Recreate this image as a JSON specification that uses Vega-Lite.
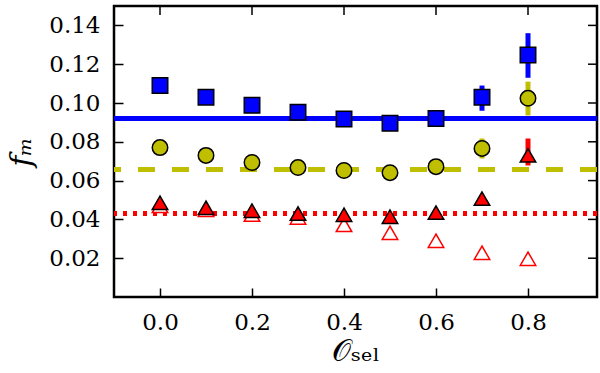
{
  "$schema": "https://vega.github.io/schema/vega-lite/v6.json",
  "autosize": "none",
  "width": 483,
  "height": 291,
  "padding": {"left": 114, "top": 6, "right": 3, "bottom": 76},
  "config": {
    "view": {"stroke": "black", "strokeWidth": 2.5},
    "axis": {"grid": false, "domain": false, "tickColor": "black", "tickWidth": 1.5, "tickSize": -9, "labelFont": "DejaVu Serif", "labelFontSize": 23, "labelColor": "black", "labelPadding": 23, "titleFont": "DejaVu Serif", "titleFontSize": 30, "titleColor": "black", "titleFontWeight": "normal"}
  },
  "datasets": {
    "pts": [
      {"series": "open", "x": 0.0, "y": 0.047},
      {"series": "open", "x": 0.1, "y": 0.045},
      {"series": "open", "x": 0.2, "y": 0.0425},
      {"series": "open", "x": 0.3, "y": 0.041},
      {"series": "open", "x": 0.4, "y": 0.0372},
      {"series": "open", "x": 0.5, "y": 0.0331},
      {"series": "open", "x": 0.6, "y": 0.029},
      {"series": "open", "x": 0.7, "y": 0.0228},
      {"series": "open", "x": 0.8, "y": 0.0197},
      {"series": "red", "x": 0.0, "y": 0.0486},
      {"series": "red", "x": 0.1, "y": 0.046},
      {"series": "red", "x": 0.2, "y": 0.0445},
      {"series": "red", "x": 0.3, "y": 0.043},
      {"series": "red", "x": 0.4, "y": 0.0424},
      {"series": "red", "x": 0.5, "y": 0.0414},
      {"series": "red", "x": 0.6, "y": 0.0435},
      {"series": "red", "x": 0.7, "y": 0.0507},
      {"series": "red", "x": 0.8, "y": 0.073},
      {"series": "yellow", "x": 0.0, "y": 0.077},
      {"series": "yellow", "x": 0.1, "y": 0.073},
      {"series": "yellow", "x": 0.2, "y": 0.0693},
      {"series": "yellow", "x": 0.3, "y": 0.0667},
      {"series": "yellow", "x": 0.4, "y": 0.0652},
      {"series": "yellow", "x": 0.5, "y": 0.0641},
      {"series": "yellow", "x": 0.6, "y": 0.0672},
      {"series": "yellow", "x": 0.7, "y": 0.0766},
      {"series": "yellow", "x": 0.8, "y": 0.1024},
      {"series": "blue", "x": 0.0, "y": 0.109},
      {"series": "blue", "x": 0.1, "y": 0.103},
      {"series": "blue", "x": 0.2, "y": 0.0988},
      {"series": "blue", "x": 0.3, "y": 0.0952},
      {"series": "blue", "x": 0.4, "y": 0.0918},
      {"series": "blue", "x": 0.5, "y": 0.0895},
      {"series": "blue", "x": 0.6, "y": 0.092},
      {"series": "blue", "x": 0.7, "y": 0.103},
      {"series": "blue", "x": 0.8, "y": 0.1247}
    ],
    "errs": [
      {"series": "blue", "x": 0.7, "lo": 0.096, "hi": 0.109},
      {"series": "blue", "x": 0.8, "lo": 0.113, "hi": 0.136},
      {"series": "yellow", "x": 0.7, "lo": 0.0714, "hi": 0.0817},
      {"series": "yellow", "x": 0.8, "lo": 0.0936, "hi": 0.111},
      {"series": "red", "x": 0.8, "lo": 0.0678, "hi": 0.0817}
    ],
    "lines": [
      {"series": "blue", "y": 0.092},
      {"series": "yellow", "y": 0.0657},
      {"series": "red", "y": 0.043}
    ],
    "xticks": [{"v": 0}, {"v": 0.2}, {"v": 0.4}, {"v": 0.6}, {"v": 0.8}],
    "yticks": [{"v": 0.02}, {"v": 0.04}, {"v": 0.06}, {"v": 0.08}, {"v": 0.10}, {"v": 0.12}, {"v": 0.14}]
  },
  "layer": [
    {
      "data": {"name": "errs"},
      "mark": {"type": "rule", "strokeWidth": 5},
      "encoding": {
        "x": {"field": "x", "type": "quantitative", "scale": {"domain": [-0.1, 0.95], "nice": false, "zero": false},
          "axis": {"orient": "bottom", "values": [0, 0.2, 0.4, 0.6, 0.8], "format": ".1f", "domain": false, "grid": false, "ticks": true, "tickColor": "black", "tickWidth": 1.5, "tickSize": -9, "labelFont": "DejaVu Serif", "labelFontSize": 23, "labelColor": "black", "labelPadding": 23, "title": "𝒪ₛₑₗ", "titleFont": "DejaVu Serif", "titleFontSize": 30, "titleColor": "black", "titleFontWeight": "normal", "titlePadding": 2}},
        "y": {"field": "lo", "type": "quantitative", "scale": {"domain": [0, 0.15], "nice": false},
          "axis": {"orient": "left", "values": [0.02, 0.04, 0.06, 0.08, 0.10, 0.12, 0.14], "format": ".2f", "domain": false, "grid": false, "ticks": true, "tickColor": "black", "tickWidth": 1.5, "tickSize": -9, "labelFont": "DejaVu Serif", "labelFontSize": 23, "labelColor": "black", "labelPadding": 23, "title": "fₘ", "titleFont": "DejaVu Serif", "titleFontSize": 30, "titleColor": "black", "titleFontWeight": "normal", "titleFontStyle": "italic", "titlePadding": 12}},
        "y2": {"field": "hi"},
        "color": {"field": "series", "type": "nominal", "scale": {"domain": ["blue", "yellow", "red"], "range": ["#0000ff", "#bfbf00", "#ff0000"]}, "legend": null}
      }
    },
    {
      "data": {"name": "lines"},
      "mark": {"type": "rule", "strokeWidth": 5},
      "encoding": {
        "y": {"field": "y", "type": "quantitative", "scale": {"domain": [0, 0.15], "nice": false},
          "axis": {"orient": "left", "values": [0.02, 0.04, 0.06, 0.08, 0.10, 0.12, 0.14], "format": ".2f", "domain": false, "grid": false, "ticks": true, "tickColor": "black", "tickWidth": 1.5, "tickSize": -9, "labelFont": "DejaVu Serif", "labelFontSize": 23, "labelColor": "black", "labelPadding": 23, "title": "fₘ", "titleFont": "DejaVu Serif", "titleFontSize": 30, "titleColor": "black", "titleFontWeight": "normal", "titleFontStyle": "italic", "titlePadding": 12}},
        "color": {"field": "series", "type": "nominal", "scale": {"domain": ["blue", "yellow", "red"], "range": ["#0000ff", "#bfbf00", "#ff0000"]}, "legend": null},
        "strokeDash": {"field": "series", "type": "nominal", "scale": {"domain": ["blue", "yellow", "red"], "range": [[1, 0], [17, 17], [4, 6]]}, "legend": null}
      }
    },
    {
      "data": {"name": "xticks"},
      "mark": {"type": "rule", "color": "black", "strokeWidth": 1.5},
      "encoding": {
        "x": {"field": "v", "type": "quantitative", "scale": {"domain": [-0.1, 0.95], "nice": false, "zero": false},
          "axis": {"orient": "bottom", "values": [0, 0.2, 0.4, 0.6, 0.8], "format": ".1f", "domain": false, "grid": false, "ticks": true, "tickColor": "black", "tickWidth": 1.5, "tickSize": -9, "labelFont": "DejaVu Serif", "labelFontSize": 23, "labelColor": "black", "labelPadding": 23, "title": "𝒪ₛₑₗ", "titleFont": "DejaVu Serif", "titleFontSize": 30, "titleColor": "black", "titleFontWeight": "normal", "titlePadding": 2}},
        "y": {"datum": 0.15, "type": "quantitative", "scale": {"domain": [0, 0.15], "nice": false},
          "axis": {"orient": "left", "values": [0.02, 0.04, 0.06, 0.08, 0.10, 0.12, 0.14], "format": ".2f", "domain": false, "grid": false, "ticks": true, "tickColor": "black", "tickWidth": 1.5, "tickSize": -9, "labelFont": "DejaVu Serif", "labelFontSize": 23, "labelColor": "black", "labelPadding": 23, "title": "fₘ", "titleFont": "DejaVu Serif", "titleFontSize": 30, "titleColor": "black", "titleFontWeight": "normal", "titleFontStyle": "italic", "titlePadding": 12}},
        "y2": {"datum": 0.1454}
      }
    },
    {
      "data": {"name": "yticks"},
      "mark": {"type": "rule", "color": "black", "strokeWidth": 1.5},
      "encoding": {
        "y": {"field": "v", "type": "quantitative", "scale": {"domain": [0, 0.15], "nice": false},
          "axis": {"orient": "left", "values": [0.02, 0.04, 0.06, 0.08, 0.10, 0.12, 0.14], "format": ".2f", "domain": false, "grid": false, "ticks": true, "tickColor": "black", "tickWidth": 1.5, "tickSize": -9, "labelFont": "DejaVu Serif", "labelFontSize": 23, "labelColor": "black", "labelPadding": 23, "title": "fₘ", "titleFont": "DejaVu Serif", "titleFontSize": 30, "titleColor": "black", "titleFontWeight": "normal", "titleFontStyle": "italic", "titlePadding": 12}},
        "x": {"datum": 0.95, "type": "quantitative", "scale": {"domain": [-0.1, 0.95], "nice": false, "zero": false},
          "axis": {"orient": "bottom", "values": [0, 0.2, 0.4, 0.6, 0.8], "format": ".1f", "domain": false, "grid": false, "ticks": true, "tickColor": "black", "tickWidth": 1.5, "tickSize": -9, "labelFont": "DejaVu Serif", "labelFontSize": 23, "labelColor": "black", "labelPadding": 23, "title": "𝒪ₛₑₗ", "titleFont": "DejaVu Serif", "titleFontSize": 30, "titleColor": "black", "titleFontWeight": "normal", "titlePadding": 2}},
        "x2": {"datum": 0.9305}
      }
    },
    {
      "data": {"name": "pts"},
      "mark": {"type": "point", "filled": true, "strokeWidth": 1.5, "size": 240, "opacity": 1, "fillOpacity": 1, "strokeOpacity": 1},
      "encoding": {
        "x": {"field": "x", "type": "quantitative", "scale": {"domain": [-0.1, 0.95], "nice": false, "zero": false},
          "axis": {"orient": "bottom", "values": [0, 0.2, 0.4, 0.6, 0.8], "format": ".1f", "domain": false, "grid": false, "ticks": true, "tickColor": "black", "tickWidth": 1.5, "tickSize": -9, "labelFont": "DejaVu Serif", "labelFontSize": 23, "labelColor": "black", "labelPadding": 23, "title": "𝒪ₛₑₗ", "titleFont": "DejaVu Serif", "titleFontSize": 30, "titleColor": "black", "titleFontWeight": "normal", "titlePadding": 2}},
        "y": {"field": "y", "type": "quantitative", "scale": {"domain": [0, 0.15], "nice": false},
          "axis": {"orient": "left", "values": [0.02, 0.04, 0.06, 0.08, 0.10, 0.12, 0.14], "format": ".2f", "domain": false, "grid": false, "ticks": true, "tickColor": "black", "tickWidth": 1.5, "tickSize": -9, "labelFont": "DejaVu Serif", "labelFontSize": 23, "labelColor": "black", "labelPadding": 23, "title": "fₘ", "titleFont": "DejaVu Serif", "titleFontSize": 30, "titleColor": "black", "titleFontWeight": "normal", "titleFontStyle": "italic", "titlePadding": 12}},
        "shape": {"field": "series", "type": "nominal", "scale": {"domain": ["open", "red", "yellow", "blue"], "range": ["triangle-up", "triangle-up", "circle", "square"]}, "legend": null},
        "fill": {"field": "series", "type": "nominal", "scale": {"domain": ["open", "red", "yellow", "blue"], "range": ["#ffffff", "#ff0000", "#bfbf00", "#0000ff"]}, "legend": null},
        "stroke": {"field": "series", "type": "nominal", "scale": {"domain": ["open", "red", "yellow", "blue"], "range": ["#ff0000", "#000000", "#000000", "#000000"]}, "legend": null}
      }
    }
  ]
}
